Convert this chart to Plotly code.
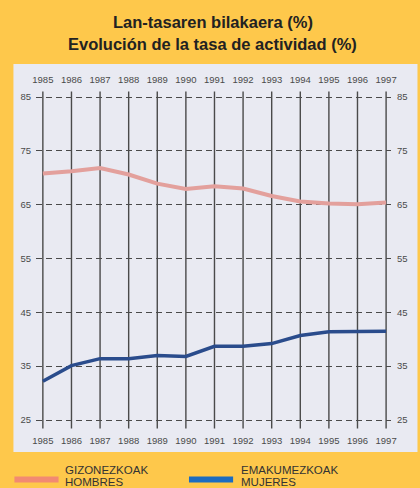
import plotly.graph_objects as go

years = [1985, 1986, 1987, 1988, 1989, 1990, 1991, 1992, 1993, 1994, 1995, 1996, 1997]
hombres = [70.8, 71.2, 71.8, 70.6, 68.9, 67.9, 68.4, 68.0, 66.6, 65.6, 65.2, 65.1, 65.4]
mujeres = [32.2, 35.1, 36.4, 36.4, 37.0, 36.8, 38.7, 38.7, 39.2, 40.7, 41.4, 41.4, 41.5]
y_ticks = [25, 35, 45, 55, 65, 75, 85]
title_lines = ["Lan-tasaren bilakaera (%)", "Evolución de la tasa de actividad (%)"]
legend_eu = ["GIZONEZKOAK", "EMAKUMEZKOAK"]
legend_es = ["HOMBRES", "MUJERES"]

W, H = 420, 488
L, R, T, B = 36, 22, 86, 55
pw, ph = W - L - R, H - T - B


def px(xp):
    return (xp - L) / pw


def py(yp):
    return (H - B - yp) / ph


YELLOW = "#FEC84B"
PANEL = "#E9EAF2"
GRID = "#4a4a4a"
NARROW = "Liberation Sans Narrow, Liberation Sans, Arial"

fig = go.Figure()
fig.add_trace(go.Scatter(x=years, y=hombres, mode="lines", name="Hombres",
                         line=dict(color="#E3A09C", width=4), showlegend=False,
                         xaxis="x", yaxis="y"))
fig.add_trace(go.Scatter(x=years, y=mujeres, mode="lines", name="Mujeres",
                         line=dict(color="#2A4C8C", width=3.5), showlegend=False,
                         xaxis="x", yaxis="y"))
# invisible trace to activate the secondary axes
fig.add_trace(go.Scatter(x=years, y=hombres, mode="lines", line=dict(width=0),
                         opacity=0, showlegend=False, hoverinfo="skip",
                         xaxis="x2", yaxis="y2"))

shapes = []
shapes.append(dict(type="rect", xref="paper", yref="paper",
                   x0=px(13), x1=px(425), y0=py(452), y1=py(64),
                   fillcolor=PANEL, line=dict(width=0), layer="below"))
for yr in years:
    shapes.append(dict(type="line", xref="x", yref="y", x0=yr, x1=yr,
                       y0=23.4, y1=86.0, line=dict(color=GRID, width=1.4),
                       layer="between"))
shapes.append(dict(type="rect", xref="paper", yref="paper",
                   x0=px(14), x1=px(59), y0=py(482.5), y1=py(476.5),
                   fillcolor="#F28A72", line=dict(width=0)))
shapes.append(dict(type="rect", xref="paper", yref="paper",
                   x0=px(192), x1=px(237), y0=py(482.5), y1=py(476.5),
                   fillcolor="#1C6CC0", line=dict(width=0)))

annotations = []
for i, xs in enumerate([64, 243]):
    annotations.append(dict(text=legend_eu[i], xref="paper", yref="paper",
                            x=px(xs), y=py(470), xanchor="left", yanchor="middle",
                            showarrow=False, font=dict(family=NARROW, size=11.5, color="#333")))
    annotations.append(dict(text=legend_es[i], xref="paper", yref="paper",
                            x=px(xs), y=py(482), xanchor="left", yanchor="middle",
                            showarrow=False, font=dict(family=NARROW, size=11.5, color="#333")))
for i, yp in enumerate([22, 44]):
    annotations.append(dict(text="<b>" + title_lines[i] + "</b>", xref="paper", yref="paper",
                            x=px(216), y=py(yp), xanchor="center", yanchor="middle",
                            showarrow=False,
                            font=dict(family="Liberation Sans, Arial", size=16.5, color="#222")))

tickfont = dict(family="Liberation Sans, Arial", size=9.5, color="#4a4a4a")
xr = [1985 - (43 - L) / 29.17, 1997 + (L + pw - 393) / 29.17]
ppu = (420 - 97) / 60.0
yr_ = [25 - (H - B - 420) / ppu, 85 + (97 - T) / ppu]

fig.update_layout(
    width=W, height=H,
    margin=dict(l=L, r=R, t=T, b=B),
    paper_bgcolor=YELLOW, plot_bgcolor="rgba(0,0,0,0)",
    shapes=shapes, annotations=annotations,
    xaxis=dict(range=xr, tickvals=years, ticktext=[str(y) for y in years],
               showgrid=False, zeroline=False, showline=False, ticks="",
               tickfont=tickfont, side="bottom"),
    xaxis2=dict(range=xr, tickvals=years, ticktext=[str(y) for y in years],
                overlaying="x", side="top", showgrid=False, zeroline=False,
                showline=False, ticks="", tickfont=tickfont),
    yaxis=dict(range=yr_, tickvals=y_ticks, showgrid=True, gridcolor=GRID,
               gridwidth=1.2, griddash="6px,4px", zeroline=False, showline=False,
               ticks="", tickfont=tickfont, side="left", ticklabelstandoff=4),
    yaxis2=dict(range=yr_, tickvals=y_ticks, overlaying="y", side="right",
                showgrid=False, zeroline=False, showline=False, ticks="",
                tickfont=tickfont, ticklabelstandoff=5),
)

fig.write_html("out.html", config={"displayModeBar": False},
               post_script="document.body.style.margin='0';document.body.style.overflow='hidden';")
